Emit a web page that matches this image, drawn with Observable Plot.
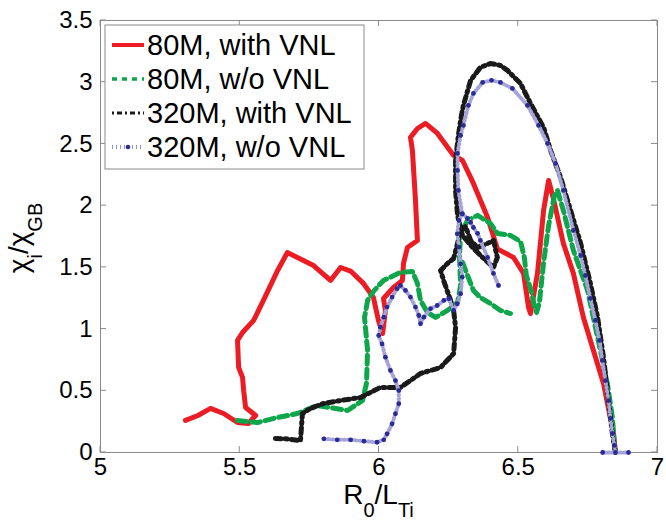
<!DOCTYPE html>
<html><head><meta charset="utf-8">
<script src="https://cdn.jsdelivr.net/npm/d3@7"></script>
<script src="https://cdn.jsdelivr.net/npm/@observablehq/plot@0.6"></script>
<style>html,body{margin:0;padding:0;background:#fff}svg{display:block}</style>
</head><body><div id="chart"></div>
<script>
const xTicks = [5, 5.5, 6, 6.5, 7];
const yTicks = [0, 0.5, 1, 1.5, 2, 2.5, 3, 3.5];
const seriesNames = ["80M, with VNL", "80M, w/o VNL", "320M, with VNL", "320M, w/o VNL"];

const red80 = [[5.305,0.26],[5.35,0.30],[5.395,0.357],[5.442,0.316],[5.492,0.243],[5.531,0.235],[5.557,0.30],[5.521,0.365],[5.514,0.502],[5.51,0.608],[5.496,0.689],[5.492,0.908],[5.51,0.972],[5.55,1.07],[5.585,1.232],[5.636,1.475],[5.671,1.62],[5.765,1.515],[5.826,1.394],[5.862,1.499],[5.898,1.47],[5.944,1.37],[5.98,1.256],[5.998,1.07],[6.013,0.964],[6.023,1.151],[6.016,1.248],[6.052,1.337],[6.084,1.394],[6.088,1.532],[6.102,1.661],[6.138,1.718],[6.131,2.042],[6.12,2.447],[6.113,2.553],[6.138,2.625],[6.167,2.666],[6.21,2.585],[6.268,2.407],[6.30,2.366],[6.339,2.18],[6.39,1.904],[6.425,1.65],[6.483,1.58],[6.519,1.451],[6.537,1.175],[6.544,1.126],[6.569,1.451],[6.591,1.961],[6.609,2.204],[6.627,2.05],[6.662,1.694],[6.698,1.451],[6.734,1.094],[6.77,0.827],[6.806,0.559],[6.842,0.154],[6.849,0.0]];

const green80 = [[5.492,0.259],[5.564,0.243],[5.636,0.284],[5.707,0.316],[5.779,0.381],[5.887,0.34],[5.941,0.421],[5.955,0.559],[5.959,0.827],[5.948,1.094],[5.959,1.232],[5.98,1.305],[6.016,1.394],[6.077,1.459],[6.12,1.467],[6.138,1.37],[6.149,1.232],[6.174,1.135],[6.203,1.094],[6.246,1.151],[6.282,1.216],[6.293,1.353],[6.289,1.596],[6.293,1.775],[6.318,1.88],[6.354,1.921],[6.40,1.856],[6.425,1.775],[6.472,1.759],[6.508,1.71],[6.522,1.58],[6.529,1.434],[6.548,1.297],[6.558,1.183],[6.566,1.135],[6.576,1.216],[6.591,1.54],[6.609,1.84],[6.63,2.083],[6.641,2.123],[6.662,1.961],[6.698,1.637],[6.749,1.313],[6.785,0.932],[6.82,0.559],[6.838,0.284],[6.845,0.073],[6.849,0.0]];
const green80branch = [[6.30,1.54],[6.318,1.434],[6.339,1.313],[6.364,1.256],[6.40,1.207],[6.436,1.151],[6.472,1.126]];

const black320 = [[5.628,0.113],[5.67,0.11],[5.718,0.097],[5.722,0.219],[5.725,0.316],[5.754,0.357],[5.80,0.397],[5.862,0.421],[5.934,0.446],[6.005,0.527],[6.077,0.527],[6.149,0.64],[6.221,0.689],[6.268,0.802],[6.275,1.013],[6.268,1.151],[6.257,1.232],[6.232,1.394],[6.221,1.475],[6.246,1.532],[6.268,1.572],[6.282,1.694],[6.293,1.799],[6.311,1.831],[6.329,1.718],[6.354,1.661],[6.39,1.694],[6.411,1.718],[6.425,1.58],[6.411,1.499],[6.372,1.58],[6.336,1.661],[6.30,1.758],[6.282,1.921],[6.275,2.123],[6.275,2.366],[6.285,2.569],[6.296,2.731],[6.303,2.812],[6.329,3.015],[6.364,3.12],[6.40,3.152],[6.436,3.136],[6.461,3.096],[6.508,2.99],[6.544,2.828],[6.591,2.634],[6.616,2.447],[6.652,2.229],[6.688,1.961],[6.724,1.694],[6.759,1.37],[6.785,1.094],[6.806,0.77],[6.824,0.421],[6.838,0.154],[6.849,0.0]];

const blue320 = [[5.802,0.111],[5.85,0.103],[5.898,0.103],[5.946,0.092],[5.993,0.083],[6.017,0.103],[6.029,0.151],[6.047,0.232],[6.059,0.314],[6.071,0.395],[6.071,0.502],[6.059,0.583],[6.041,0.665],[6.023,0.772],[6.011,0.88],[5.999,0.948],[6.005,1.015],[6.017,1.096],[6.029,1.178],[6.047,1.259],[6.065,1.327],[6.077,1.353],[6.095,1.313],[6.113,1.259],[6.131,1.178],[6.143,1.11],[6.149,1.043],[6.161,1.096],[6.185,1.165],[6.209,1.191],[6.233,1.232],[6.251,1.246],[6.268,1.151],[6.281,1.205],[6.293,1.286],[6.299,1.421],[6.293,1.529],[6.287,1.664],[6.281,1.772],[6.287,1.88],[6.299,1.934],[6.285,2.123],[6.282,2.285],[6.282,2.423],[6.293,2.569],[6.303,2.65],[6.321,2.812],[6.339,2.909],[6.372,2.998],[6.404,3.015],[6.436,2.998],[6.479,2.95],[6.533,2.812],[6.573,2.65],[6.605,2.504],[6.634,2.342],[6.662,2.123],[6.698,1.799],[6.724,1.596],[6.741,1.434],[6.759,1.248],[6.777,1.07],[6.792,0.908],[6.802,0.746],[6.813,0.583],[6.824,0.421],[6.831,0.276],[6.838,0.154],[6.845,0.057],[6.849,0.0],[6.803,0.0],[6.896,0.0]];
const blue320branch = [[6.299,1.934],[6.318,1.896],[6.329,1.864],[6.339,1.823],[6.354,1.775],[6.364,1.718],[6.39,1.58],[6.411,1.451],[6.429,1.353]];

const colors = ["#ec1c24", "#0ea54b", "#1a1a1a", "#2b2b96"];
const FONT = "'Liberation Sans', Arial, Helvetica, sans-serif";
const rows = (pts, seg) => pts.map(([x, y]) => ({x, y, seg}));
const redRows = rows(red80, "a");
const greenRows = rows(green80, "a").concat(rows(green80branch, "b"));
const blackRows = rows(black320, "a");
const blueRows = rows(blue320, "a").concat(rows(blue320branch, "b"));

const plot = Plot.plot({
  width: 666, height: 520,
  marginLeft: 100, marginRight: 9, marginTop: 20, marginBottom: 68,
  style: {fontFamily: FONT, fontSize: "24px", color: "#000", background: "#fff", overflow: "visible"},
  x: {domain: [5, 7]},
  y: {domain: [0, 3.5]},
  marks: [
    Plot.axisX(xTicks, {tickSize: 0, tickPadding: 5, fontSize: 24, label: null, tickFormat: d => String(d)}),
    Plot.axisY(yTicks, {tickSize: 0, tickPadding: 8, fontSize: 24, label: null, tickFormat: d => String(d)}),
    Plot.frame({stroke: "#8a8a8a", strokeWidth: 1}),
    Plot.line(redRows, {x: "x", y: "y", z: "seg", stroke: colors[0], strokeWidth: 5, strokeLinejoin: "round", strokeLinecap: "round"}),
    Plot.line(greenRows, {x: "x", y: "y", z: "seg", stroke: colors[1], strokeWidth: 5, strokeDasharray: "9,5", strokeLinejoin: "round"}),
    Plot.line(blackRows, {x: "x", y: "y", z: "seg", stroke: colors[2], strokeWidth: 5, strokeDasharray: "6,4,2,4", strokeLinejoin: "round"}),
    Plot.line(blueRows, {x: "x", y: "y", z: "seg", stroke: "#a4a4da", strokeWidth: 4, strokeDasharray: "1,3"}),
    Plot.dot(blueRows, {x: "x", y: "y", r: 2.4, fill: colors[3], stroke: null})
  ]
});
document.getElementById("chart").appendChild(plot);

const svg = d3.select(plot);
const X = plot.scale("x"), Y = plot.scale("y");
const x0 = X.apply(5), x1 = X.apply(7), y0 = Y.apply(0), y1 = Y.apply(3.5);
const tg = svg.append("g").attr("stroke", "#8a8a8a").attr("stroke-width", 1);
for (const t of xTicks) {
  const px = X.apply(t);
  tg.append("line").attr("x1", px).attr("x2", px).attr("y1", y0).attr("y2", y0 - 6);
  tg.append("line").attr("x1", px).attr("x2", px).attr("y1", y1).attr("y2", y1 + 6);
}
for (const t of yTicks) {
  const py = Y.apply(t);
  tg.append("line").attr("x1", x0).attr("x2", x0 + 6).attr("y1", py).attr("y2", py);
  tg.append("line").attr("x1", x1).attr("x2", x1 - 6).attr("y1", py).attr("y2", py);
}

// axis labels
const xl = svg.append("text").attr("x", (x0 + x1) / 2).attr("y", 504)
  .attr("text-anchor", "middle").attr("font-family", FONT).attr("font-size", 28).attr("fill", "#000");
xl.append("tspan").text("R");
xl.append("tspan").attr("dy", 13).attr("font-size", 20).text("0");
xl.append("tspan").attr("dy", -13).text("/L");
xl.append("tspan").attr("dy", 13).attr("font-size", 20).text("Ti");

const yl = svg.append("text").attr("transform", `translate(28,${(y0 + y1) / 2 + 2}) rotate(-90)`)
  .attr("text-anchor", "middle").attr("font-family", FONT).attr("font-size", 28).attr("fill", "#000");
yl.append("tspan").text("χ");
yl.append("tspan").attr("dy", 14).attr("font-size", 20).text("i");
yl.append("tspan").attr("dy", -14).text("/χ");
yl.append("tspan").attr("dy", 14).attr("font-size", 20).text("GB");

// legend
const lg = svg.append("g").attr("text-anchor", "start");
lg.append("rect").attr("x", 105).attr("y", 25).attr("width", 259).attr("height", 144)
  .attr("fill", "#fff").attr("stroke", "#8a8a8a").attr("stroke-width", 1);
const rowsY = [45, 79, 113, 147];
const sx1 = 112, sx2 = 144;
seriesNames.forEach((name, i) => {
  const cy = rowsY[i];
  if (i === 0) lg.append("line").attr("x1", sx1).attr("x2", sx2).attr("y1", cy).attr("y2", cy).attr("stroke", colors[0]).attr("stroke-width", 4);
  if (i === 1) lg.append("line").attr("x1", sx1).attr("x2", sx2).attr("y1", cy).attr("y2", cy).attr("stroke", colors[1]).attr("stroke-width", 3.5).attr("stroke-dasharray", "5,5");
  if (i === 2) lg.append("line").attr("x1", sx1).attr("x2", sx2).attr("y1", cy).attr("y2", cy).attr("stroke", colors[2]).attr("stroke-width", 3).attr("stroke-dasharray", "2,3,5,3");
  if (i === 3) {
    lg.append("line").attr("x1", sx1).attr("x2", sx2).attr("y1", cy).attr("y2", cy).attr("stroke", "#9494d2").attr("stroke-width", 4).attr("stroke-dasharray", "1,3");
    lg.append("circle").attr("cx", (sx1 + sx2) / 2).attr("cy", cy).attr("r", 2.3).attr("fill", colors[3]);
  }
  lg.append("text").attr("x", 147).attr("y", cy + 10).attr("text-anchor", "start").attr("font-family", FONT).attr("font-size", 29).attr("fill", "#000").text(name);
});
</script>
</body></html>
